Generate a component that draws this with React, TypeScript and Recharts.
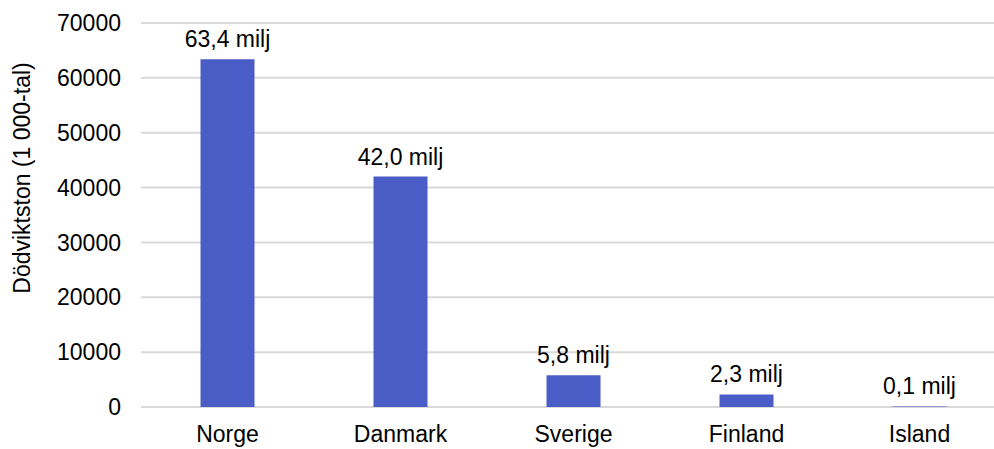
import React from "react";
import { BarChart, Bar, XAxis, YAxis, CartesianGrid, LabelList, Label } from "recharts";

const countries = ["Norge", "Danmark", "Sverige", "Finland", "Island"];
const tonnage = [63400, 42000, 5800, 2300, 100];
const valueLabels = ["63,4 milj", "42,0 milj", "5,8 milj", "2,3 milj", "0,1 milj"];
const yTicks = [0, 10000, 20000, 30000, 40000, 50000, 60000, 70000];
const yTitle = "Dödviktston (1 000-tal)";

const data = countries.map((c, i) => ({ name: c, value: tonnage[i], label: valueLabels[i] }));

const FONT = "'Liberation Sans', Arial, sans-serif";

const renderValueLabel = (props: any) => {
  const { x, y, width, value } = props;
  return (
    <text
      x={Number(x) + Number(width) / 2}
      y={Number(y) - 12}
      textAnchor="middle"
      fill="#000"
      fontSize={23}
      fontFamily={FONT}
    >
      {value}
    </text>
  );
};

const renderYTitle = () => (
  <text
    x={22}
    y={178}
    transform="rotate(-90 22 178)"
    textAnchor="middle"
    dominantBaseline="central"
    fill="#000"
    fontSize={23}
    fontFamily={FONT}
  >
    {yTitle}
  </text>
);

export default function App() {
  return (
    <div style={{ position: "absolute", left: 0, top: 0, width: 994, height: 449, background: "#fff", overflow: "hidden" }}>
      <BarChart
        width={994}
        height={449}
        data={data}
        margin={{ top: 23, right: -12, bottom: 0, left: 0 }}
        barCategoryGap="34.4%"
      >
        <CartesianGrid vertical={false} stroke="#d9d9d9" strokeWidth={2} />
        <XAxis
          dataKey="name"
          height={42}
          axisLine={false}
          tickLine={false}
          tick={{ fill: "#000", fontSize: 23, fontFamily: FONT }}
          dy={11}
        />
        <YAxis
          width={141}
          domain={[0, 70000]}
          ticks={yTicks}
          axisLine={false}
          tickLine={false}
          interval={0}
          tick={{ fill: "#000", fontSize: 23, fontFamily: FONT }}
          dx={-12}
        >
          <Label content={renderYTitle} />
        </YAxis>
        <Bar dataKey="value" fill="#4a5cc5" isAnimationActive={false}>
          <LabelList dataKey="label" content={renderValueLabel} />
        </Bar>
      </BarChart>
    </div>
  );
}
